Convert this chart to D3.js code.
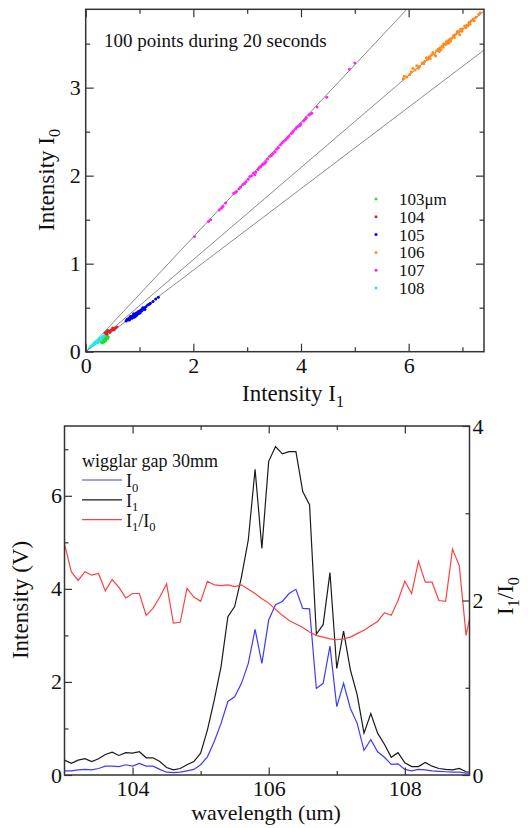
<!DOCTYPE html>
<html>
<head>
<meta charset="utf-8">
<script src="https://cdn.jsdelivr.net/npm/d3@7"></script>
<style>
  body { margin: 0; background: #fff; }
  text { font-family: "Liberation Serif", "Times New Roman", serif; fill: #111; }
</style>
</head>
<body>
<svg id="chart" width="528" height="828"></svg>
<script>
// ---- top chart: I0 vs I1 scatter, one series per wavelength ----
const wl_labels = ['103\u03bcm', '104', '105', '106', '107', '108'];
const wl_colors = ['#22dd22', '#e02020', '#0000ee', '#ff8c1a', '#ff22ff', '#22e6f0'];

const pts103 = [[0.28,0.11],[0.30,0.12],[0.32,0.12],[0.33,0.13],[0.35,0.14],[0.36,0.15],[0.38,0.15],
  [0.40,0.16],[0.42,0.17],[0.34,0.11],[0.37,0.13],[0.39,0.18],[0.31,0.10],[0.36,0.12],[0.41,0.15]];
const pts104 = [[0.36,0.21],[0.38,0.22],[0.40,0.22],[0.42,0.23],[0.44,0.23],[0.46,0.24],[0.48,0.25],
  [0.50,0.25],[0.52,0.26],[0.55,0.27],[0.58,0.28],[0.45,0.22],[0.41,0.24],[0.50,0.27],[0.53,0.25],[0.39,0.20]];
const pts105 = [[0.75,0.35],[0.78,0.36],[0.80,0.38],[0.82,0.37],[0.84,0.39],[0.85,0.40],[0.87,0.40],
  [0.88,0.41],[0.90,0.42],[0.91,0.41],[0.93,0.43],[0.94,0.44],[0.96,0.44],[0.97,0.45],[0.99,0.46],
  [1.00,0.45],[1.02,0.47],[1.04,0.48],[1.05,0.47],[1.07,0.49],[1.09,0.50],[1.12,0.51],[1.15,0.53],
  [1.20,0.55],[1.25,0.57],[1.30,0.60],[1.35,0.62],[0.86,0.38],[0.92,0.40],[0.95,0.42],[1.01,0.44],
  [0.83,0.40],[0.77,0.37],[0.81,0.36],[0.89,0.43],[0.98,0.43],[1.03,0.46],[1.06,0.50],[1.10,0.48],
  [0.90,0.39],[0.94,0.41],[1.18,0.54]];
const pts106 = [[5.90,3.10],[5.92,3.13],[5.97,3.12],[6.05,3.18],[6.08,3.22],[6.12,3.20],[6.15,3.25],
  [6.20,3.24],[6.25,3.28],[6.30,3.30],[6.33,3.34],[6.38,3.35],[6.42,3.37],[6.45,3.40],[6.48,3.38],
  [6.52,3.42],[6.55,3.44],[6.58,3.45],[6.62,3.47],[6.65,3.50],[6.68,3.49],[6.70,3.52],[6.73,3.53],
  [6.76,3.55],[6.80,3.56],[6.83,3.59],[6.86,3.60],[6.90,3.62],[6.93,3.63],[6.96,3.66],[7.00,3.67],
  [7.04,3.70],[7.08,3.71],[7.12,3.74],[7.16,3.76],[7.20,3.78],[7.25,3.80],[7.30,3.83],[7.33,3.85],
  [6.60,3.43],[6.40,3.33],[6.95,3.60],[7.10,3.70],[6.75,3.51],[6.50,3.36],[6.57,3.41],[6.64,3.46],
  [6.72,3.50],[6.78,3.53],[6.85,3.57],[6.91,3.64],[6.99,3.64],[7.06,3.68],[7.14,3.72],[7.22,3.76],
  [6.35,3.32],[6.18,3.22],[6.02,3.15],[6.28,3.27]];
const pts107 = [[2.02,1.31],[2.28,1.48],[2.32,1.50],[2.48,1.61],[2.55,1.65],[2.60,1.69],[2.75,1.80],
  [2.80,1.82],[2.88,1.87],[2.92,1.90],[2.98,1.93],[3.02,1.96],[3.08,2.00],[3.12,2.03],[3.16,2.04],
  [3.20,2.07],[3.25,2.10],[3.30,2.13],[3.35,2.16],[3.38,2.19],[3.45,2.23],[3.52,2.27],[3.58,2.32],
  [3.62,2.35],[3.68,2.39],[3.72,2.41],[3.78,2.45],[3.82,2.48],[3.86,2.51],[3.90,2.53],[3.95,2.56],
  [4.00,2.59],[4.05,2.62],[4.10,2.66],[4.15,2.69],[4.20,2.71],[4.30,2.78],[4.48,2.89],[4.90,3.21],
  [5.00,3.28],[2.85,1.85],[2.95,1.91],[3.05,1.99],[3.14,2.01],[3.22,2.09],[3.28,2.12],[3.33,2.14],
  [3.42,2.22],[3.48,2.25],[3.55,2.30],[3.65,2.37],[3.75,2.43],[3.84,2.49],[3.92,2.55],[3.98,2.57],
  [4.08,2.64],[4.18,2.70],[2.52,1.63],[2.78,1.81]];
const pts108 = [[0.08,0.05],[0.10,0.06],[0.12,0.07],[0.14,0.08],[0.15,0.09],[0.17,0.09],[0.18,0.10],
  [0.20,0.11],[0.21,0.12],[0.23,0.12],[0.24,0.13],[0.26,0.14],[0.28,0.15],[0.30,0.16],[0.32,0.17],
  [0.34,0.18],[0.22,0.10],[0.27,0.13],[0.19,0.12],[0.25,0.15],[0.29,0.14],[0.16,0.10]];
const ref_slopes = [0.652, 0.523, 0.463];

// ---- bottom chart: spectra vs wavelength ----
const wavelength = [103.0,103.1,103.2,103.3,103.4,103.5,103.6,103.7,103.8,103.9,
  104.0,104.1,104.2,104.3,104.4,104.5,104.6,104.7,104.8,104.9,
  105.0,105.1,105.2,105.3,105.4,105.5,105.6,105.7,105.8,105.9,
  106.0,106.1,106.2,106.3,106.4,106.5,106.6,106.7,106.8,106.9,
  107.0,107.1,107.2,107.3,107.4,107.5,107.6,107.7,107.8,107.9,
  108.0,108.1,108.2,108.3,108.4,108.5,108.6,108.7,108.8,108.9,109.0];
const I0 = [0.09,0.09,0.11,0.12,0.11,0.14,0.19,0.19,0.18,0.22,
  0.19,0.25,0.19,0.19,0.12,0.06,0.05,0.06,0.09,0.12,
  0.22,0.39,0.72,1.11,1.58,1.68,1.97,2.40,3.13,2.40,
  3.33,3.66,3.73,3.90,3.99,3.58,3.57,1.86,1.97,2.77,
  1.47,1.97,1.43,1.11,0.53,0.76,0.50,0.38,0.23,0.24,
  0.12,0.09,0.12,0.11,0.09,0.08,0.07,0.06,0.06,0.04,0.04];
const I1 = [0.32,0.25,0.32,0.35,0.29,0.35,0.44,0.49,0.42,0.48,
  0.47,0.50,0.37,0.37,0.29,0.16,0.11,0.14,0.22,0.29,
  0.47,0.97,1.61,2.33,3.40,3.62,4.26,5.05,6.57,4.87,
  6.74,7.06,6.90,6.95,6.95,6.09,5.81,3.03,3.23,4.35,
  2.29,3.09,2.26,1.72,0.90,1.32,0.90,0.66,0.38,0.48,
  0.26,0.18,0.18,0.27,0.19,0.14,0.12,0.11,0.14,0.07,0.06];
const ratio = [2.65,2.33,2.23,2.33,2.29,2.31,2.11,2.24,2.15,2.03,
  2.08,2.08,1.83,1.91,2.04,2.19,1.74,1.75,2.14,2.04,
  1.99,2.22,2.18,2.17,2.18,2.16,2.18,2.13,2.08,2.02,
  1.97,1.90,1.83,1.77,1.73,1.69,1.64,1.60,1.58,1.56,
  1.55,1.56,1.58,1.62,1.66,1.71,1.76,1.86,1.83,2.00,
  2.22,2.08,2.45,2.21,2.21,2.00,1.99,2.59,2.40,1.60,1.98];

const svg = d3.select('#chart');
const frameColor = '#333';

// draw inward ticks (len > 0 points into the plot); labels optional
function ticks(g, axisFn, scale, vals, len, labels, fontSize, pad) {
  const a = g.append('g').call(axisFn(scale).tickValues(vals).tickSize(-len)
      .tickPadding(pad || 4).tickFormat(labels ? d3.format('d') : () => ''));
  a.select('.domain').remove();
  a.selectAll('line').attr('stroke', frameColor).attr('stroke-width', 1.2);
  a.attr('font-family', null).attr('font-size', null);
  a.selectAll('text').attr('font-size', (fontSize || 22) + 'px').attr('fill', '#111');
  return a;
}

// subscript label helper: parts = [[text, isSub, backUp], ...]
function subText(sel, parts, size) {
  parts.forEach(p => {
    const t = sel.append('tspan').text(p[0]);
    if (p[1]) t.attr('font-size', (size * 0.7) + 'px').attr('dy', size * 0.25);
    else if (p[2]) t.attr('dy', -size * 0.25);
  });
}

// ===================== TOP CHART =====================
const L1 = 85.7, R1 = 484, T1 = 9.3, B1 = 351.7;
const x1 = d3.scaleLinear().domain([0, 7.4]).range([L1, R1]);
const y1 = d3.scaleLinear().domain([0, 3.89]).range([B1, T1]);

svg.append('clipPath').attr('id', 'clip1').append('rect')
  .attr('x', L1).attr('y', T1).attr('width', R1 - L1).attr('height', B1 - T1);
svg.append('clipPath').attr('id', 'clip2').append('rect')
  .attr('x', 64.5).attr('y', 426).attr('width', 405).attr('height', 349);

const topG = svg.append('g');
topG.append('g').attr('clip-path', 'url(#clip1)')
  .selectAll('line').data(ref_slopes).enter().append('line')
  .attr('x1', x1(0)).attr('y1', y1(0))
  .attr('x2', x1(7.4)).attr('y2', d => y1(7.4 * d))
  .attr('stroke', '#8a8a8a').attr('stroke-width', 1);

const allPts = [pts103, pts104, pts105, pts106, pts107, pts108];
allPts.forEach((pts, i) => {
  topG.append('g').attr('clip-path', 'url(#clip1)')
    .selectAll('circle').data(pts).enter().append('circle')
    .attr('cx', d => x1(d[0])).attr('cy', d => y1(d[1]))
    .attr('r', 1.5).attr('fill', wl_colors[i]);
});

// ticks
let g = topG.append('g').attr('transform', `translate(0,${B1})`);
ticks(g, d3.axisBottom, x1, [0, 2, 4, 6], 8, true, 22, 6);
ticks(g, d3.axisBottom, x1, [1, 3, 5, 7], 4.5, false);
g = topG.append('g').attr('transform', `translate(0,${T1})`);
ticks(g, d3.axisTop, x1, [0, 2, 4, 6], 8, false);
ticks(g, d3.axisTop, x1, [1, 3, 5, 7], 4.5, false);
g = topG.append('g').attr('transform', `translate(${L1},0)`);
ticks(g, d3.axisLeft, y1, [0, 1, 2, 3], 8, true, 22, 5);
ticks(g, d3.axisLeft, y1, [0.5, 1.5, 2.5, 3.5], 4.5, false);
g = topG.append('g').attr('transform', `translate(${R1},0)`);
ticks(g, d3.axisRight, y1, [1, 2, 3], 8, false);
ticks(g, d3.axisRight, y1, [0.5, 1.5, 2.5, 3.5], 4.5, false);

topG.append('rect').attr('x', L1).attr('y', T1).attr('width', R1 - L1).attr('height', B1 - T1)
  .attr('fill', 'none').attr('stroke', frameColor).attr('stroke-width', 1.5);

topG.append('text').attr('x', 104).attr('y', 47).attr('font-size', '19px')
  .text('100 points during 20 seconds');

// legend
const leg1 = topG.append('g');
wl_labels.forEach((lab, i) => {
  const yy = 199 + i * 17.8;
  leg1.append('circle').attr('cx', 376).attr('cy', yy).attr('r', 1.5).attr('fill', wl_colors[i]);
  leg1.append('text').attr('x', 399).attr('y', yy).attr('dy', '0.35em')
    .attr('font-size', '17px').text(lab);
});

// axis titles
subText(topG.append('text').attr('x', 293).attr('y', 401).attr('text-anchor', 'middle')
  .attr('font-size', '23px'), [['Intensity I'], ['1', true]], 23);
subText(topG.append('text').attr('transform', 'translate(54,180) rotate(-90)')
  .attr('text-anchor', 'middle').attr('font-size', '23px'), [['Intensity I'], ['0', true]], 23);

// ===================== BOTTOM CHART =====================
const L2 = 64.5, R2 = 469.5, T2 = 426, B2 = 775;
const x2 = d3.scaleLinear().domain([103, 108.95]).range([L2, R2]);
const yL = d3.scaleLinear().domain([0, 7.5]).range([B2, T2]);
const yR = d3.scaleLinear().domain([0, 4]).range([B2, T2]);

const bot = svg.append('g');
const series = [
  { vals: I0, scale: yL, color: '#3b3bff' },
  { vals: I1, scale: yL, color: '#1a1a1a' },
  { vals: ratio, scale: yR, color: '#ff4040' }
];
series.forEach(s => {
  bot.append('path').attr('clip-path', 'url(#clip2)')
    .datum(wavelength.map((w, i) => [w, s.vals[i]]))
    .attr('d', d3.line().x(d => x2(d[0])).y(d => s.scale(d[1])))
    .attr('fill', 'none').attr('stroke', s.color).attr('stroke-width', 1.2);
});

g = bot.append('g').attr('transform', `translate(0,${B2})`);
ticks(g, d3.axisBottom, x2, [104, 106, 108], 7.5, true, 22, 5);
ticks(g, d3.axisBottom, x2, [105, 107], 4, false);
g = bot.append('g').attr('transform', `translate(0,${T2})`);
ticks(g, d3.axisTop, x2, [104, 106, 108], 7.5, false);
ticks(g, d3.axisTop, x2, [105, 107], 4, false);
g = bot.append('g').attr('transform', `translate(${L2},0)`);
ticks(g, d3.axisLeft, yL, [0, 2, 4, 6], 7.5, true, 22, 2.5);
ticks(g, d3.axisLeft, yL, [1, 3, 5, 7], 4, false);
g = bot.append('g').attr('transform', `translate(${R2},0)`);
ticks(g, d3.axisRight, yR, [0, 2, 4], 7, true, 22, 3);
ticks(g, d3.axisRight, yR, [1, 3], 4, false);

bot.append('rect').attr('x', L2).attr('y', T2).attr('width', R2 - L2).attr('height', B2 - T2)
  .attr('fill', 'none').attr('stroke', frameColor).attr('stroke-width', 1.5);

// legend
bot.append('text').attr('x', 82).attr('y', 467).attr('font-size', '18px').text('wigglar gap 30mm');
const legRows = [
  { parts: [['I'], ['0', true]], color: '#3b3bff' },
  { parts: [['I'], ['1', true]], color: '#1a1a1a' },
  { parts: [['I'], ['1', true], ['/I', false, true], ['0', true]], color: '#ff4040' }
];
legRows.forEach((r, i) => {
  const yy = 480 + i * 19.8;
  bot.append('line').attr('x1', 82).attr('x2', 122).attr('y1', yy).attr('y2', yy)
    .attr('stroke', r.color).attr('stroke-width', 1.2);
  subText(bot.append('text').attr('x', 126).attr('y', yy + 7).attr('font-size', '18px'), r.parts, 18);
});

// axis titles
bot.append('text').attr('x', 266).attr('y', 820).attr('text-anchor', 'middle')
  .attr('font-size', '22px').text('wavelength (um)');
bot.append('text').attr('transform', 'translate(28,600) rotate(-90)')
  .attr('text-anchor', 'middle').attr('font-size', '23px').text('Intensity (V)');
subText(bot.append('text').attr('transform', 'translate(513,596) rotate(-90)')
  .attr('text-anchor', 'middle').attr('font-size', '23px'),
  [['I'], ['1', true], ['/I', false, true], ['0', true]], 23);
</script>
</body>
</html>
